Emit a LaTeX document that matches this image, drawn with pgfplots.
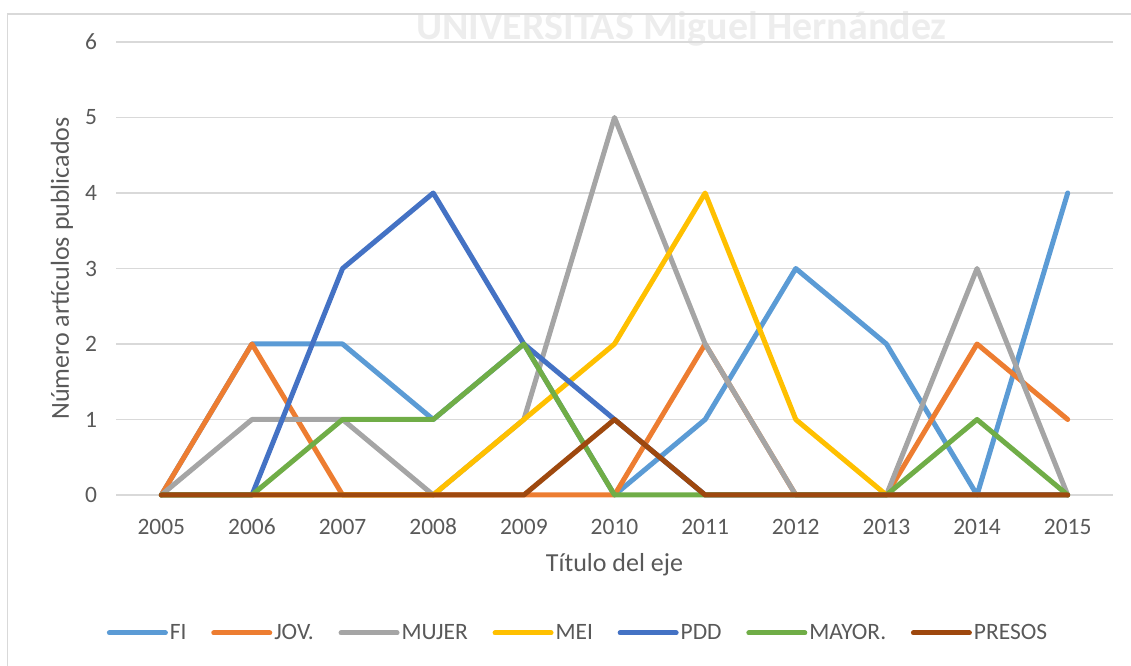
\documentclass[border=0pt]{standalone}
\usepackage{fontspec}
\setmainfont{Carlito}
\usepackage{pgfplots}
\pgfplotsset{compat=1.18}
\definecolor{cFI}{HTML}{5B9BD5}
\definecolor{cJOV}{HTML}{ED7D31}
\definecolor{cMUJER}{HTML}{A5A5A5}
\definecolor{cMEI}{HTML}{FFC000}
\definecolor{cPDD}{HTML}{4472C4}
\definecolor{cMAYOR}{HTML}{70AD47}
\definecolor{cPRESOS}{HTML}{9E480E}
\definecolor{gridc}{HTML}{D9D9D9}
\definecolor{txt}{HTML}{595959}
\begin{document}
\begin{tikzpicture}
\path[use as bounding box] (0,0) rectangle (848.25pt,499.5pt);
\node[text=black!7, font=\fontsize{30}{34}\selectfont\bfseries] at (511pt,478pt) {UNIVERSITAS Miguel Hernández};
\draw[gridc, line width=1pt] (5.6pt,0pt) -- (5.6pt,489pt) -- (848.25pt,489pt);
\begin{axis}[
  at={(87pt,128.25pt)}, anchor=south west,
  scale only axis, width=747.75pt, height=339.75pt,
  xmin=2004.5, xmax=2015.5, ymin=0, ymax=6,
  clip=false,
  xtick={2005,2006,...,2015}, ytick={0,1,...,6},
  axis line style={draw=none},
  major tick length=0pt,
  ymajorgrids, grid style={gridc, line width=1.1pt},
  font=\fontsize{17.6}{21}\selectfont,
  /pgf/number format/assume math mode=true,
  /pgf/number format/1000 sep={},
  xticklabel style={text=txt, anchor=center, inner sep=0pt, yshift=-24pt},
  yticklabel style={text=txt, anchor=east, inner sep=0pt, xshift=-14pt},
  xlabel={Título del eje},
  ylabel={Número artículos publicados},
  label style={font=\fontsize{19.5}{23}\selectfont},
  xlabel style={text=txt, at={(rel axis cs:0.5,0)}, anchor=center, inner sep=0pt, yshift=-52.5pt},
  ylabel style={text=txt, at={(rel axis cs:0,0.5)}, anchor=center, inner sep=0pt, yshift=40.5pt},
  every axis plot/.append style={line width=3.75pt, line join=round, line cap=round, no markers},
  legend columns=-1,
  legend style={at={(axis description cs:0.4634,-0.3046)}, anchor=center, draw=none, fill=none,
    text=txt, font=\fontsize{17.6}{21}\selectfont,
    nodes={inner sep=1.5pt},
    /tikz/every even column/.append style={column sep=17pt}},
  legend image code/.code={\draw[#1] (0pt,0pt) -- (42pt,0pt);},
]
\addplot[cFI] coordinates {(2005,0)(2006,2)(2007,2)(2008,1)(2009,2)(2010,0)(2011,1)(2012,3)(2013,2)(2014,0)(2015,4)};
\addlegendentry{FI}
\addplot[cJOV] coordinates {(2005,0)(2006,2)(2007,0)(2008,0)(2009,0)(2010,0)(2011,2)(2012,0)(2013,0)(2014,2)(2015,1)};
\addlegendentry{JOV.}
\addplot[cMUJER] coordinates {(2005,0)(2006,1)(2007,1)(2008,0)(2009,1)(2010,5)(2011,2)(2012,0)(2013,0)(2014,3)(2015,0)};
\addlegendentry{MUJER}
\addplot[cMEI] coordinates {(2005,0)(2006,0)(2007,0)(2008,0)(2009,1)(2010,2)(2011,4)(2012,1)(2013,0)(2014,0)(2015,0)};
\addlegendentry{MEI}
\addplot[cPDD] coordinates {(2005,0)(2006,0)(2007,3)(2008,4)(2009,2)(2010,1)(2011,0)(2012,0)(2013,0)(2014,0)(2015,0)};
\addlegendentry{PDD}
\addplot[cMAYOR] coordinates {(2005,0)(2006,0)(2007,1)(2008,1)(2009,2)(2010,0)(2011,0)(2012,0)(2013,0)(2014,1)(2015,0)};
\addlegendentry{MAYOR.}
\addplot[cPRESOS] coordinates {(2005,0)(2006,0)(2007,0)(2008,0)(2009,0)(2010,1)(2011,0)(2012,0)(2013,0)(2014,0)(2015,0)};
\addlegendentry{PRESOS}
\end{axis}
\end{tikzpicture}
\end{document}
